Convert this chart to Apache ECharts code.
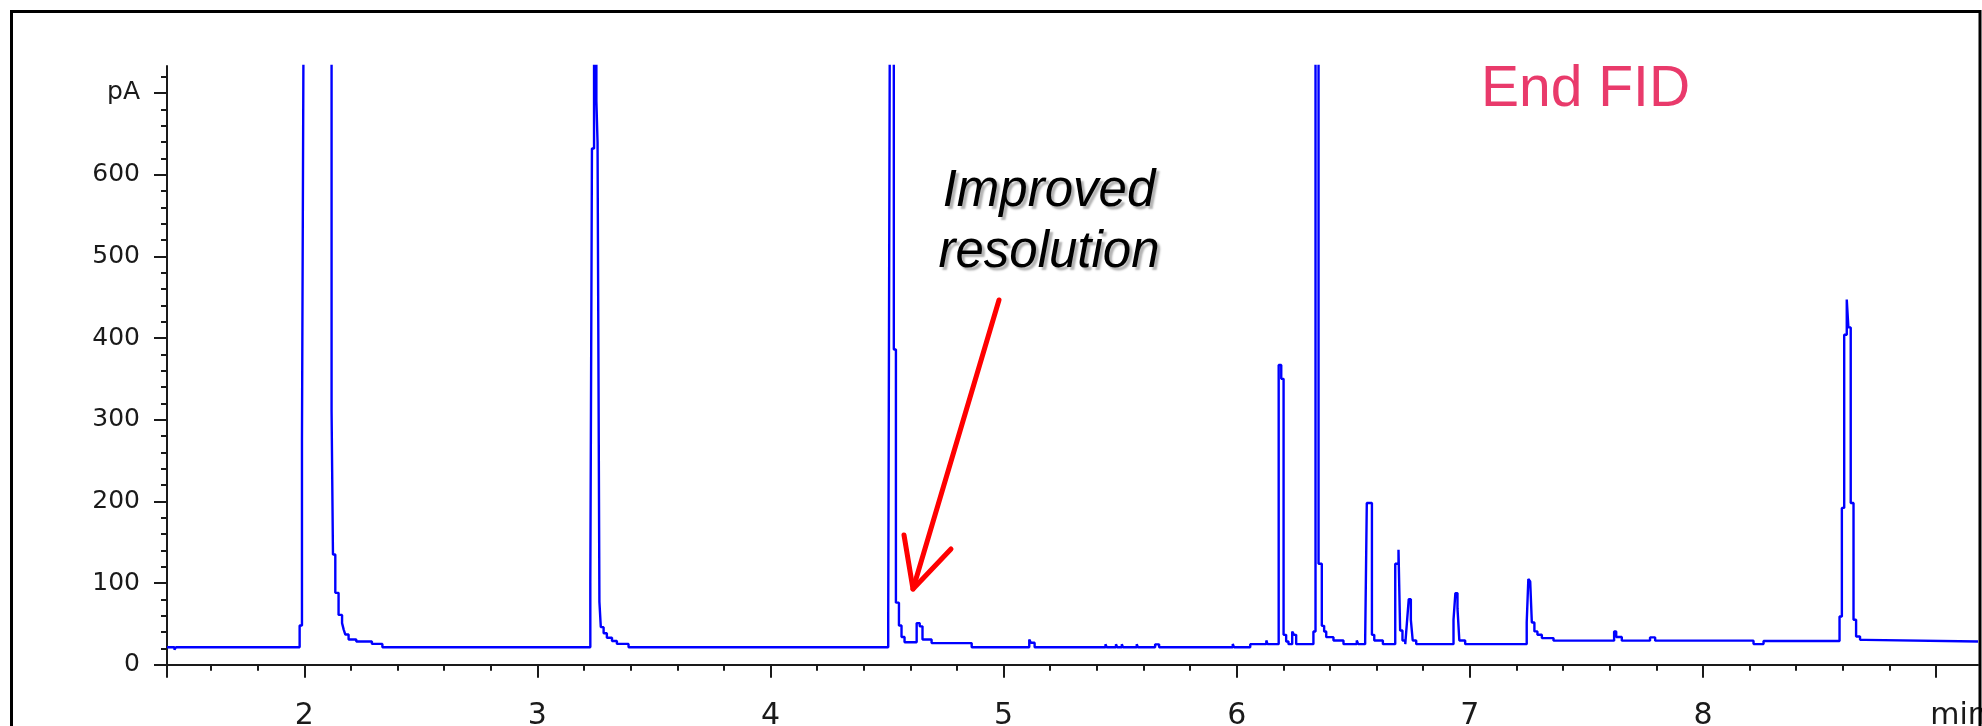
<!DOCTYPE html>
<html>
<head>
<meta charset="utf-8">
<script src="https://cdn.jsdelivr.net/npm/echarts/dist/echarts.min.js"></script>
<style>
html,body{margin:0;padding:0;background:#fff;}
#c{width:1982px;height:726px;}
</style>
</head>
<body>
<div id="c"></div>
<script>
// Retention time (min): start of each detector level
const times = [
  1.411, 1.443, 1.450, 1.980, 1.990, 1.997, 2.117, 2.123, 2.133, 2.147,
  2.162, 2.169, 2.176, 2.190, 2.223, 2.290, 2.335,
  3.227, 3.234, 3.243, 3.253, 3.258, 3.266, 3.272, 3.284, 3.298, 3.320, 3.341, 3.391,
  4.505, 4.512, 4.529, 4.538, 4.551, 4.562, 4.575, 4.627, 4.640, 4.652, 4.691, 4.863,
  5.110, 5.117, 5.133,
  5.437, 5.442, 5.482, 5.487, 5.507, 5.512, 5.571, 5.576, 5.650, 5.667, 5.983, 5.988,
  6.058, 6.127, 6.132,
  6.180, 6.191, 6.201, 6.212, 6.222, 6.238, 6.246, 6.255,
  6.329, 6.338, 6.351, 6.365, 6.375, 6.384, 6.415, 6.458, 6.515, 6.521,
  6.551, 6.558, 6.580, 6.590, 6.627,
  6.680, 6.694, 6.701, 6.711, 6.723, 6.730, 6.738, 6.747, 6.755, 6.770,
  6.930, 6.938, 6.947, 6.955, 6.980,
  7.244, 7.251, 7.259, 7.266, 7.277, 7.290, 7.309, 7.359,
  7.619, 7.628, 7.652, 7.773, 7.795, 8.217, 8.260,
  8.586, 8.596, 8.606, 8.617, 8.624, 8.634, 8.646, 8.657, 8.674, 8.696, 9.180
];
// FID signal (pA); 800 = off scale (clipped at top of plot)
const signal = [
  21.5, 18.5, 21.5, 48, 275, 800, 311, 135, 88, 61,
  51, 43, 37, 31, 28.5, 25.5, 21.5,
  100, 632, 800, 690, 640, 77, 46, 38.5, 33, 29, 25.5, 21.5,
  62, 800, 386, 76, 48, 34, 27.5, 51, 47, 31, 26.5, 21.5,
  31, 27, 21.5,
  25, 21.5, 25, 21.5, 25, 21.5, 25, 21.5, 25, 21.5, 25.5, 21.5,
  25.2, 29.7, 25.2,
  367, 350, 36.6, 28.5, 25.2, 40.7, 36.6, 25.2,
  40.7, 800, 123.6, 47.6, 40.7, 33.8, 29.7, 25.2, 29.7, 25.2,
  29.7, 198, 36.6, 29.7, 25.2,
  123.6, 140.7, 41.9, 29.7, 25.2, 50.9, 80.3, 55, 29.7, 25.2,
  55, 87.7, 69.3, 29.7, 25.2,
  51.8, 104.9, 102, 51.8, 40.8, 36.7, 32.6, 29.5,
  40.8, 33.9, 29.5, 33.5, 29.5, 25.3, 29,
  59, 192, 404, 447, 413, 198, 55, 34.6, 30.5, 28.5, 28.5
];

const xMajor = [2, 3, 4, 5, 6, 7, 8, 9];
const xMajorLabels = ['2', '3', '4', '5', '6', '7', '8', 'min'];
const yMajor = [0, 100, 200, 300, 400, 500, 600, 700];
const yMajorLabels = ['0', '100', '200', '300', '400', '500', '600', 'pA'];

const xMinor = [];
for (let i = 8; i <= 45; i++) xMinor.push(Math.round(i * 0.2 * 100) / 100);
const yMinor = [];
for (let v = 0; v <= 720; v += 20) yMinor.push(v);

const data = times.map((t, i) => [t, signal[i]]);

const FONT = 'DejaVu Sans';
const labelColor = '#1a1a1a';
const axisColor = '#1a1a1a';

const chart = echarts.init(document.getElementById('c'), null, { renderer: 'canvas' });
chart.setOption({
  animation: false,
  backgroundColor: '#ffffff',
  grid: { left: 167, top: 66, right: 4, bottom: 49, containLabel: false, outerBoundsMode: 'none' },
  xAxis: [
    {
      type: 'value', position: 'bottom', min: 1.411, max: 9.18,
      axisLine: { show: true, lineStyle: { color: axisColor, width: 2 } },
      axisTick: { show: true, customValues: xMajor, length: 13, lineStyle: { color: axisColor, width: 2 } },
      axisLabel: {
        show: true, customValues: xMajor, margin: 24,
        fontFamily: FONT, fontSize: 30, color: labelColor,
        formatter: function (v) {
          const i = xMajor.indexOf(Math.round(v));
          const s = i >= 0 ? xMajorLabels[i] : '';
          return s === 'min' ? '{m|min}' : s;
        },
        rich: { m: { padding: [0, 0, 0, 45], fontFamily: FONT, fontSize: 30, color: labelColor } }
      },
      splitLine: { show: false }
    },
    {
      type: 'value', position: 'bottom', min: 1.411, max: 9.18, offset: 0,
      axisLine: { show: false },
      axisTick: { show: true, customValues: xMinor, length: 6, lineStyle: { color: axisColor, width: 2 } },
      axisLabel: { show: false },
      splitLine: { show: false }
    }
  ],
  yAxis: [
    {
      type: 'value', position: 'left', min: -15, max: 733,
      axisLine: { show: true, lineStyle: { color: axisColor, width: 2 } },
      axisTick: { show: true, customValues: yMajor, length: 13, lineStyle: { color: axisColor, width: 2 } },
      axisLabel: {
        show: true, customValues: yMajor, margin: 27,
        fontFamily: FONT, fontSize: 25, color: labelColor,
        formatter: function (v) {
          const i = yMajor.indexOf(Math.round(v));
          return i >= 0 ? yMajorLabels[i] : '';
        }
      },
      splitLine: { show: false }
    },
    {
      type: 'value', position: 'left', min: -15, max: 733, offset: 0,
      axisLine: { show: false },
      axisTick: { show: true, customValues: yMinor, length: 6, lineStyle: { color: axisColor, width: 2 } },
      axisLabel: { show: false },
      splitLine: { show: false }
    }
  ],
  series: [{
    type: 'line',
    xAxisIndex: 0, yAxisIndex: 0,
    data: data,
    step: 'end',
    showSymbol: false,
    symbol: 'none',
    clip: true,
    sampling: null,
    lineStyle: { color: '#0000ff', width: 2.4 },
    emphasis: { disabled: true },
    silent: true
  }],
  graphic: [
    {
      type: 'rect', z: 100, silent: true,
      shape: { x: 11.5, y: 11.5, width: 1968.5, height: 800 },
      style: { fill: 'none', stroke: '#000000', lineWidth: 3 }
    },
    {
      type: 'text', z: 50, silent: true, x: 1481, y: 90,
      style: {
        text: 'End FID', fontFamily: 'Liberation Sans', fontSize: 57,
        fill: '#e93a6b', align: 'left', verticalAlign: 'middle'
      }
    },
    {
      type: 'text', z: 50, silent: true, x: 1049, y: 222,
      style: {
        text: 'Improved\nresolution', fontFamily: 'Liberation Sans', fontSize: 51,
        fontStyle: 'italic', lineHeight: 61,
        fill: '#000000', align: 'center', verticalAlign: 'middle',
        textShadowColor: 'rgba(0,0,0,0.3)', textShadowOffsetX: 3, textShadowOffsetY: 3, textShadowBlur: 2
      }
    },
    {
      type: 'line', z: 60, silent: true,
      shape: { x1: 999, y1: 300, x2: 913, y2: 589 },
      style: { stroke: '#ff0000', lineWidth: 5, lineCap: 'round' }
    },
    {
      type: 'polyline', z: 60, silent: true,
      shape: { points: [[904, 535], [913, 589], [951, 549]] },
      style: { stroke: '#ff0000', lineWidth: 5, lineCap: 'round', lineJoin: 'round', fill: 'none' }
    }
  ]
});
</script>
</body>
</html>
